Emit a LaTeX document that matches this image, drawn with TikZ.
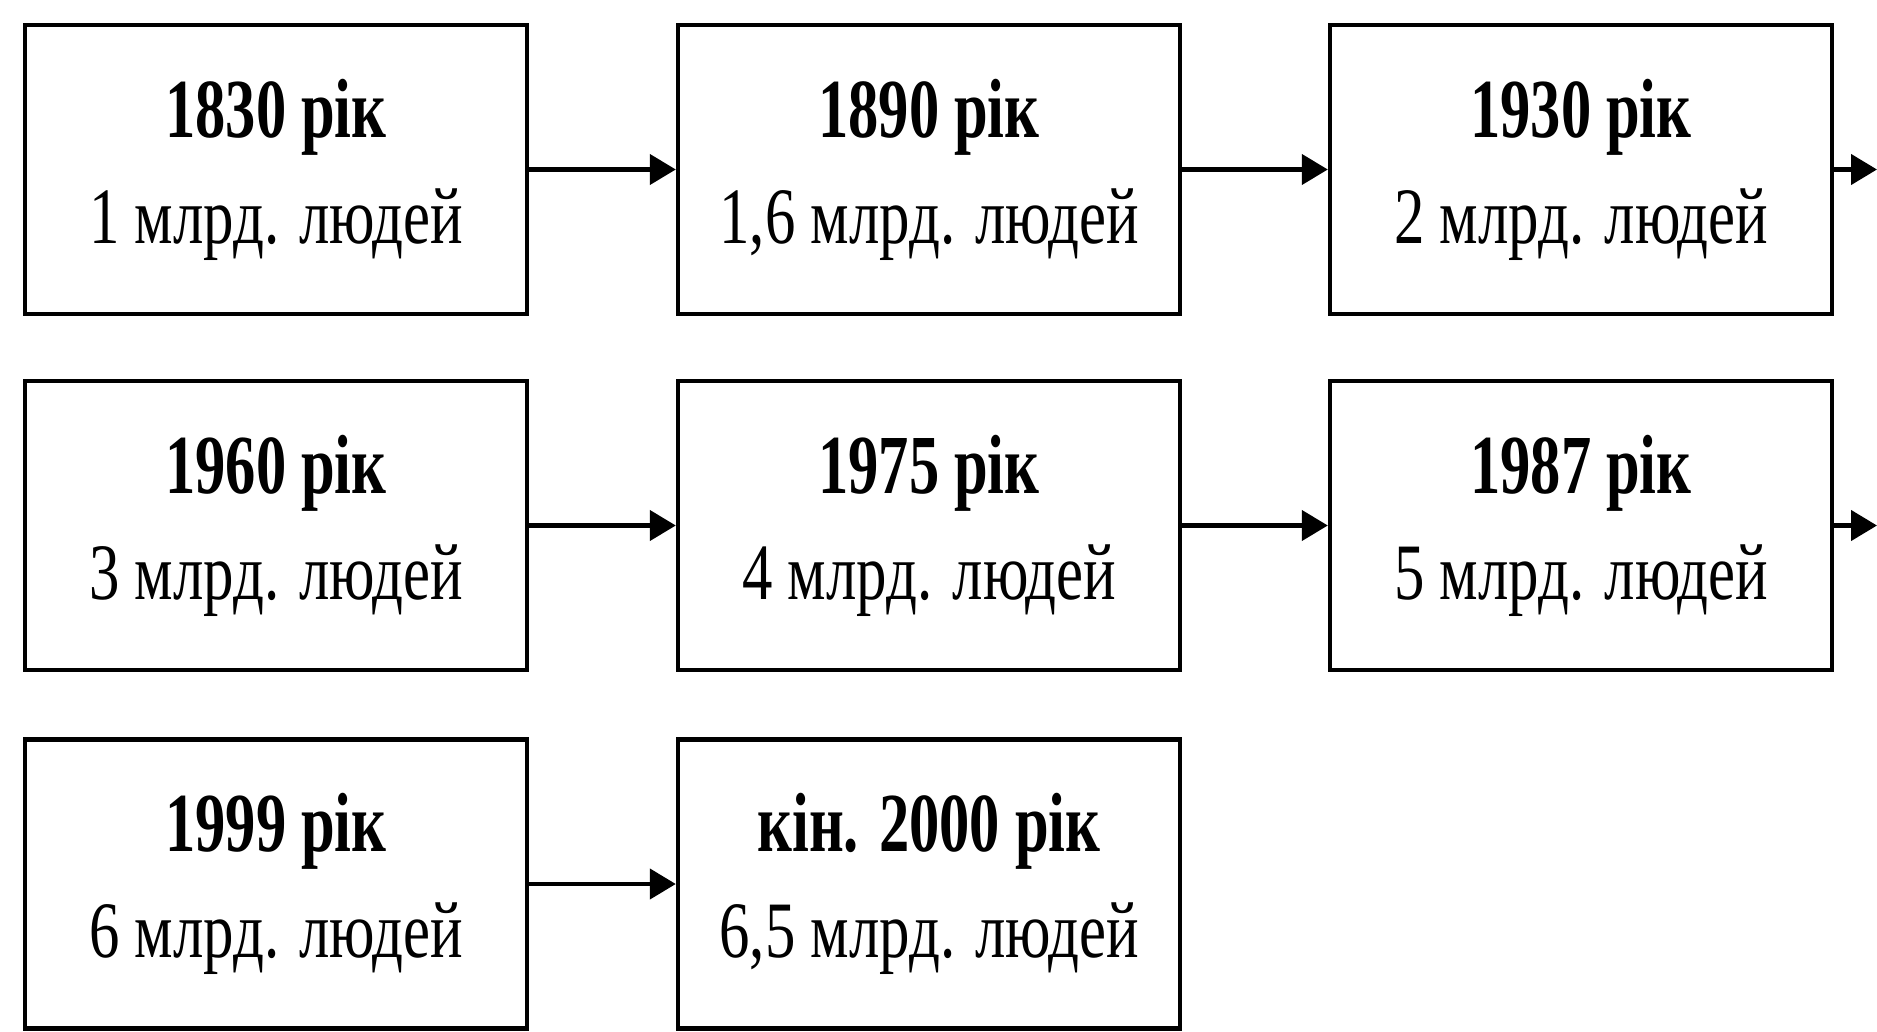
\documentclass[tikz,border=0pt]{standalone}
\usepackage{fontspec}
\setmainfont{Liberation Serif}
\usetikzlibrary{arrows.meta}
\newcommand{\yrbox}[2]{\scalebox{0.72}[1]{\fontsize{42}{53}\selectfont\bfseries #1}\\\scalebox{0.76}[1]{\fontsize{40}{53}\selectfont #2}}
\begin{document}
\begin{tikzpicture}[x=0.5pt,y=-0.5pt,
  yearbox/.style={draw, line width=2.2pt, fill=white, minimum width=251pt, minimum height=144.5pt, inner sep=0pt, align=center, font=\fontsize{40}{53}\selectfont},
  flow/.style={line width=2.2pt, -{Triangle[length=13pt,width=15pt]}}]
\useasboundingbox (0,0) rectangle (1877,1032);
\fill[white] (0,0) rectangle (1877,1032);
\node[yearbox] (a) at (276,169.5) {\yrbox{1830 рік}{1 млрд. людей}};
\node[yearbox] (b) at (929,169.5) {\yrbox{1890 рік}{1,6 млрд. людей}};
\node[yearbox] (c) at (1581,169.5) {\yrbox{1930 рік}{2 млрд. людей}};
\node[yearbox] (d) at (276,525.5) {\yrbox{1960 рік}{3 млрд. людей}};
\node[yearbox] (e) at (929,525.5) {\yrbox{1975 рік}{4 млрд. людей}};
\node[yearbox] (f) at (1581,525.5) {\yrbox{1987 рік}{5 млрд. людей}};
\node[yearbox] (g) at (276,884) {\yrbox{1999 рік}{6 млрд. людей}};
\node[yearbox] (h) at (929,884) {\yrbox{кін. 2000 рік}{6,5 млрд. людей}};
\coordinate (c2) at (1877,169.5);
\coordinate (f2) at (1877,525.5);
\draw[flow] (a) -- (b);
\draw[flow] (b) -- (c);
\draw[flow] (c) -- (c2);
\draw[flow] (d) -- (e);
\draw[flow] (e) -- (f);
\draw[flow] (f) -- (f2);
\draw[flow] (g) -- (h);
\end{tikzpicture}
\end{document}
